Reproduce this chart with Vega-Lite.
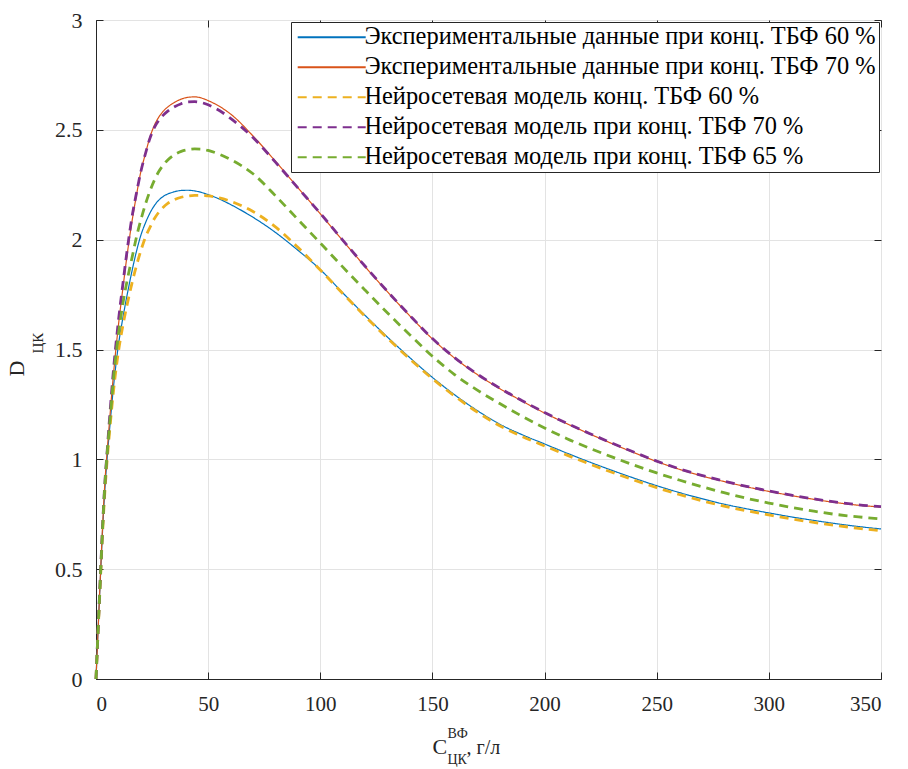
{
  "$schema": "https://vega.github.io/schema/vega-lite/v6.json",
  "autosize": {"type": "none"},
  "width": 785,
  "height": 659,
  "padding": {"left": 96, "top": 20, "right": 27, "bottom": 90},
  "background": "white",
  "config": {
    "font": "Liberation Serif",
    "view": {"stroke": "#262626", "strokeWidth": 1},
    "style": {"guide-label": {"font": "Liberation Serif"}, "guide-title": {"font": "Liberation Serif"}},
    "axis": {
      "labelFont": "Liberation Serif",
      "titleFont": "Liberation Serif",
      "labelFontSize": 21,
      "labelColor": "#262626",
      "titleColor": "#262626",
      "titleFontWeight": "normal",
      "domainColor": "#262626",
      "tickColor": "#262626",
      "gridColor": "#e3e3e3",
      "gridWidth": 1
    },
    "legend": {"labelFont": "Liberation Serif"}
  },
  "data": {
    "values": [
      {"x":0,"e60":0,"e70":0,"m60":0,"m70":0,"m65":0},
      {"x":1,"e60":0.24,"e70":0.24,"m60":0.23,"m70":0.24,"m65":0.24},
      {"x":2,"e60":0.47,"e70":0.48,"m60":0.46,"m70":0.48,"m65":0.47},
      {"x":3,"e60":0.69,"e70":0.71,"m60":0.68,"m70":0.71,"m65":0.70},
      {"x":4,"e60":0.87,"e70":0.90,"m60":0.86,"m70":0.90,"m65":0.89},
      {"x":5,"e60":1.01,"e70":1.04,"m60":1.00,"m70":1.04,"m65":1.03},
      {"x":6,"e60":1.13,"e70":1.17,"m60":1.12,"m70":1.18,"m65":1.15},
      {"x":8,"e60":1.35,"e70":1.41,"m60":1.33,"m70":1.43,"m65":1.39},
      {"x":10,"e60":1.52,"e70":1.61,"m60":1.49,"m70":1.63,"m65":1.57},
      {"x":12,"e60":1.645,"e70":1.78,"m60":1.61,"m70":1.80,"m65":1.71},
      {"x":14,"e60":1.755,"e70":1.94,"m60":1.71,"m70":1.96,"m65":1.82},
      {"x":16,"e60":1.855,"e70":2.08,"m60":1.80,"m70":2.10,"m65":1.915},
      {"x":18,"e60":1.945,"e70":2.20,"m60":1.88,"m70":2.21,"m65":2.01},
      {"x":20,"e60":2.02,"e70":2.31,"m60":1.95,"m70":2.31,"m65":2.09},
      {"x":22,"e60":2.075,"e70":2.39,"m60":2.01,"m70":2.39,"m65":2.16},
      {"x":24,"e60":2.12,"e70":2.465,"m60":2.055,"m70":2.46,"m65":2.22},
      {"x":26,"e60":2.155,"e70":2.52,"m60":2.095,"m70":2.51,"m65":2.27},
      {"x":28,"e60":2.18,"e70":2.558,"m60":2.125,"m70":2.543,"m65":2.31},
      {"x":30,"e60":2.197,"e70":2.585,"m60":2.148,"m70":2.567,"m65":2.34},
      {"x":32,"e60":2.208,"e70":2.604,"m60":2.165,"m70":2.585,"m65":2.363},
      {"x":35,"e60":2.218,"e70":2.625,"m60":2.182,"m70":2.605,"m65":2.387},
      {"x":38,"e60":2.224,"e70":2.64,"m60":2.193,"m70":2.619,"m65":2.402},
      {"x":41,"e60":2.225,"e70":2.648,"m60":2.199,"m70":2.627,"m65":2.41},
      {"x":44,"e60":2.222,"e70":2.65,"m60":2.202,"m70":2.628,"m65":2.413},
      {"x":47,"e60":2.215,"e70":2.645,"m60":2.202,"m70":2.624,"m65":2.412},
      {"x":50,"e60":2.205,"e70":2.633,"m60":2.199,"m70":2.614,"m65":2.406},
      {"x":55,"e60":2.185,"e70":2.607,"m60":2.19,"m70":2.588,"m65":2.389},
      {"x":60,"e60":2.16,"e70":2.572,"m60":2.175,"m70":2.552,"m65":2.365},
      {"x":70,"e60":2.102,"e70":2.472,"m60":2.128,"m70":2.465,"m65":2.30},
      {"x":80,"e60":2.033,"e70":2.357,"m60":2.058,"m70":2.353,"m65":2.20},
      {"x":90,"e60":1.952,"e70":2.237,"m60":1.965,"m70":2.236,"m65":2.092},
      {"x":100,"e60":1.864,"e70":2.118,"m60":1.862,"m70":2.12,"m65":1.985},
      {"x":110,"e60":1.758,"e70":1.996,"m60":1.755,"m70":1.998,"m65":1.876},
      {"x":120,"e60":1.655,"e70":1.877,"m60":1.651,"m70":1.879,"m65":1.77},
      {"x":130,"e60":1.556,"e70":1.762,"m60":1.551,"m70":1.764,"m65":1.666},
      {"x":140,"e60":1.462,"e70":1.652,"m60":1.456,"m70":1.654,"m65":1.566},
      {"x":150,"e60":1.373,"e70":1.548,"m60":1.367,"m70":1.55,"m65":1.469},
      {"x":160,"e60":1.293,"e70":1.46,"m60":1.287,"m70":1.462,"m65":1.385},
      {"x":170,"e60":1.222,"e70":1.386,"m60":1.215,"m70":1.388,"m65":1.315},
      {"x":180,"e60":1.16,"e70":1.322,"m60":1.153,"m70":1.324,"m65":1.254},
      {"x":190,"e60":1.112,"e70":1.265,"m60":1.104,"m70":1.267,"m65":1.196},
      {"x":200,"e60":1.07,"e70":1.211,"m60":1.061,"m70":1.213,"m65":1.143},
      {"x":210,"e60":1.028,"e70":1.162,"m60":1.019,"m70":1.164,"m65":1.094},
      {"x":220,"e60":0.988,"e70":1.116,"m60":0.979,"m70":1.118,"m65":1.051},
      {"x":230,"e60":0.95,"e70":1.072,"m60":0.941,"m70":1.074,"m65":1.011},
      {"x":240,"e60":0.914,"e70":1.03,"m60":0.905,"m70":1.032,"m65":0.973},
      {"x":250,"e60":0.88,"e70":0.99,"m60":0.871,"m70":0.992,"m65":0.938},
      {"x":260,"e60":0.849,"e70":0.955,"m60":0.84,"m70":0.957,"m65":0.906},
      {"x":270,"e60":0.821,"e70":0.925,"m60":0.812,"m70":0.927,"m65":0.876},
      {"x":280,"e60":0.796,"e70":0.899,"m60":0.787,"m70":0.901,"m65":0.848},
      {"x":290,"e60":0.775,"e70":0.875,"m60":0.766,"m70":0.877,"m65":0.823},
      {"x":300,"e60":0.756,"e70":0.854,"m60":0.747,"m70":0.856,"m65":0.801},
      {"x":310,"e60":0.738,"e70":0.835,"m60":0.729,"m70":0.837,"m65":0.781},
      {"x":320,"e60":0.722,"e70":0.818,"m60":0.713,"m70":0.82,"m65":0.764},
      {"x":330,"e60":0.707,"e70":0.803,"m60":0.699,"m70":0.805,"m65":0.749},
      {"x":340,"e60":0.694,"e70":0.791,"m60":0.686,"m70":0.793,"m65":0.738},
      {"x":350,"e60":0.683,"e70":0.783,"m60":0.675,"m70":0.785,"m65":0.729}
    ]
  },
  "transform": [{"fold": ["e60", "e70", "m60", "m70", "m65"], "as": ["s", "y"]}],
  "encoding": {
    "color": {
      "field": "s", "type": "nominal",
      "scale": {
        "domain": ["e60", "e70", "m60", "m70", "m65"],
        "range": ["#0072BD", "#D95319", "#EDB120", "#7E2F8E", "#77AC30"]
      },
      "legend": {
        "title": null,
        "orient": "top-right",
        "offset": 2,
        "padding": 3,
        "fillColor": "white",
        "strokeColor": "#262626",
        "labelFont": "Liberation Serif",
        "labelFontSize": 24.4,
        "labelColor": "#000000",
        "labelLimit": 800,
        "symbolType": "M-1,0H7",
        "symbolSize": 289,
        "symbolStrokeWidth": 2,
        "labelOffset": 46,
        "rowPadding": 5,
        "labelExpr": "datum.value === 'e60' ? 'Экспериментальные данные при конц. ТБФ 60 %' : datum.value === 'e70' ? 'Экспериментальные данные при конц. ТБФ 70 %' : datum.value === 'm60' ? 'Нейросетевая модель конц. ТБФ 60 %' : datum.value === 'm70' ? 'Нейросетевая модель при конц. ТБФ 70 %' : 'Нейросетевая модель при конц. ТБФ 65 %'"
      }
    },
    "strokeDash": {
      "field": "s", "type": "nominal",
      "scale": {
        "domain": ["e60", "e70", "m60", "m70", "m65"],
        "range": [[1, 0], [1, 0], [9, 6], [9, 6], [9, 6]]
      }
    }
  },
  "layer": [
    {
      "transform": [{"filter": "datum.s === 'e60'"}],
      "mark": {"type": "line", "interpolate": "monotone", "strokeWidth": 1.2},
      "encoding": {
        "x": {"field": "x", "type": "quantitative", "scale": {"domain": [0, 350], "nice": false},
          "axis": {"orient": "bottom", "values": [0,50,100,150,200,250,300,350], "tickSize": -7, "tickOpacity": 0, "labelPadding": 21, "grid": true,
            "labelFont": "Liberation Serif", "titleFont": "Liberation Serif",
            "title": "C", "titleFontSize": 22, "titleAlign": "left", "titleBaseline": "alphabetic", "titleX": 336, "titleY": 74}},
        "y": {"field": "y", "type": "quantitative", "scale": {"domain": [0, 3], "nice": false},
          "axis": {"orient": "left", "values": [0,0.5,1,1.5,2,2.5,3], "format": "~g", "tickSize": -7, "tickOpacity": 0, "labelPadding": 21, "grid": true,
            "labelFont": "Liberation Serif", "titleFont": "Liberation Serif", "labelFontSize": 22,
            "title": "D", "titleFontSize": 22, "titleAngle": 270, "titleAlign": "left", "titleBaseline": "alphabetic", "titleX": -73, "titleY": 356}}
      }
    },
    {
      "transform": [{"filter": "datum.s === 'e70'"}],
      "mark": {"type": "line", "interpolate": "monotone", "strokeWidth": 1.2},
      "encoding": {
        "x": {"field": "x", "type": "quantitative", "scale": {"domain": [0, 350], "nice": false},
          "axis": {"orient": "bottom", "offset": -7, "values": [0,50,100,150,200,250,300,350], "tickSize": 7, "labels": false, "domain": false, "grid": false,
            "titleFont": "Liberation Serif",
            "title": ", г/л", "titleFontSize": 20, "titleAlign": "left", "titleBaseline": "alphabetic", "titleX": 370, "titleY": 81}},
        "y": {"field": "y", "type": "quantitative", "scale": {"domain": [0, 3], "nice": false},
          "axis": {"orient": "left", "offset": -7, "values": [0,0.5,1,1.5,2,2.5,3], "tickSize": 7, "labels": false, "domain": false, "grid": false,
            "titleFont": "Liberation Serif",
            "title": "ЦК", "titleFontSize": 15, "titleAngle": 270, "titleAlign": "left", "titleBaseline": "alphabetic", "titleX": -61, "titleY": 333}}
      }
    },
    {
      "transform": [{"filter": "datum.s === 'm60' || datum.s === 'm70'"}],
      "mark": {"type": "line", "interpolate": "monotone", "strokeWidth": 2.8},
      "encoding": {
        "x": {"field": "x", "type": "quantitative", "scale": {"domain": [0, 350], "nice": false},
          "axis": {"orient": "top", "offset": -7, "values": [0,50,100,150,200,250,300,350], "tickSize": 7, "labels": false, "grid": false, "title": null, "domain": false}},
        "y": {"field": "y", "type": "quantitative", "scale": {"domain": [0, 3], "nice": false},
          "axis": {"orient": "right", "offset": -7, "values": [0,0.5,1,1.5,2,2.5,3], "tickSize": 7, "labels": false, "grid": false, "title": null, "domain": false}}
      }
    },
    {
      "transform": [{"filter": "datum.s === 'm65'"}],
      "mark": {"type": "line", "interpolate": "monotone", "strokeWidth": 2.8},
      "encoding": {
        "x": {"field": "x", "type": "quantitative", "scale": {"domain": [0, 350], "nice": false},
          "axis": {"orient": "bottom", "ticks": false, "labels": false, "domain": false, "grid": false,
            "titleFont": "Liberation Serif",
            "title": ["ВФ", "ЦК"], "titleFontSize": 14, "titleLineHeight": 26, "titleAlign": "left", "titleBaseline": "top", "titleX": 351, "titleY": 47}},
        "y": {"field": "y", "type": "quantitative", "scale": {"domain": [0, 3], "nice": false},
          "axis": {"orient": "right", "ticks": false, "labels": false, "domain": false, "grid": false, "title": null}}
      }
    }
  ],
  "resolve": {"axis": {"x": "independent", "y": "independent"}}
}
